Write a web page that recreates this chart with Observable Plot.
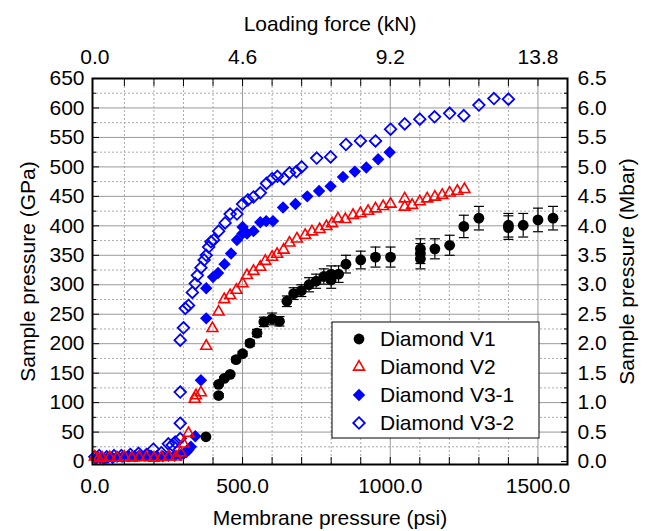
<!DOCTYPE html>
<html><head><meta charset="utf-8">
<script src="https://cdn.jsdelivr.net/npm/d3@7"></script>
<script src="https://cdn.jsdelivr.net/npm/@observablehq/plot@0.6"></script>
<style>
body{margin:0;background:#fff;}
#chart svg{font-family:"Liberation Sans",Arial,Helvetica,sans-serif;}
</style></head><body><div id="chart"></div>
<script>
// ---- data (membrane pressure psi, sample pressure GPa) ----
const v1Psi = [376,419,419,438,458,478,500,525,549,572,600,625,650,673,699,725,749,775,800,800,825,850,900,950,1001,1102,1102,1102,1151,1201,1249,1300,1400,1400,1450,1500,1551];
const v1GPa = [42,112,131,141,148,173,183,201,218,237,242,238,272,285,290,300,306,314,308,318,318,335,342,347,347,344,353,361,361,367,399,413,397,401,401,410,413];
const v1Err = [2,3,3,3,3,4,4,5,6,8,10,8,9,10,10,12,12,13,14,14,14,15,15,17,17,17,17,17,17,17,19,20,20,20,20,20,20];

const v2Psi = [0,12,25,50,75,100,125,150,175,200,225,250,275,290,300,317,338,342,359,377,398,419,438,458,479,500,515,537,560,577,600,617,639,659,684,712,735,761,784,803,823,848,874,899,925,950,976,1001,1049,1049,1074,1100,1125,1151,1176,1201,1227,1251];
const v2GPa = [8,5,6,7,6,8,6,7,7,6,7,8,8,15,30,48,106,112,117,196,226,254,275,282,291,302,316,323,330,340,347,352,359,371,378,384,390,394,399,404,412,411,418,421,425,429,433,437,446,432,435,441,446,449,452,456,459,462];

const v31Psi = [5,18,30,45,60,75,95,115,135,150,170,190,210,230,250,270,290,300,310,317,325,340,359,377,377,400,417,439,461,481,500,500,515,537,560,580,603,637,679,719,759,798,840,880,919,959,998];
const v31GPa = [5,6,4,7,6,8,8,9,9,10,10,10,9,9,10,10,11,13,16,20,25,43,138,243,294,313,320,335,353,376,398,387,387,391,406,408,408,431,437,450,459,467,483,492,499,513,525];

const v32Psi = [0,15,40,65,90,120,148,175,198,225,249,262,272,289,289,289,289,300,306,317,330,340,347,359,370,377,385,393,402,419,441,458,481,500,518,537,560,581,600,618,640,659,682,700,751,798,850,899,950,1001,1049,1100,1150,1201,1249,1300,1351,1400];
const v32GPa = [8,10,8,10,10,12,14,12,21,15,30,28,33,39,65,118,206,227,260,265,287,302,316,329,342,350,364,373,376,391,405,420,420,437,444,449,456,472,480,484,480,490,492,500,515,517,538,544,544,564,573,581,585,591,587,605,616,615];

const seriesNames = ["Diamond V1","Diamond V2","Diamond V3-1","Diamond V3-2"];

// ---- axis ticks ----
const xLabelTicks = [0,500,1000,1500];
const topLabels = ["0.0","4.6","9.2","13.8"];
const xTickMarks = [100,200,300,400,500,600,700,800,900,1000,1100,1200,1300,1400,1500];
const yTicks = [0,50,100,150,200,250,300,350,400,450,500,550,600,650];
const yMajorGrid = [50,100,150,200,250,300,350,400,450,500,550,600];
const yMinorGrid = [25,75,125,175,225,275,325,375,425,475,525,575,625];
const xSolidGrid = [500,1000,1500];
const xDotGrid = [100,200,300,400,600,700,800,900,1100,1200,1300,1400];

const zip = (xs, ys, es) => xs.map((x, i) => ({x, y: ys[i], e: es ? es[i] : 0}));
const d1 = zip(v1Psi, v1GPa, v1Err);
const d2 = zip(v2Psi, v2GPa);
const d31 = zip(v31Psi, v31GPa);
const d32 = zip(v32Psi, v32GPa);

const capSymbol = {draw(ctx) { ctx.moveTo(-5, 0); ctx.lineTo(5, 0); }};

const plot = Plot.plot({
  width: 647, height: 531,
  marginLeft: 92, marginRight: 80, marginTop: 78, marginBottom: 67,
  style: {fontFamily: "Liberation Sans, Arial, sans-serif", fontSize: "21px", color: "black", background: "white", overflow: "visible"},
  x: {domain: [-8, 1600]},
  y: {domain: [-5, 650]},
  marks: [
    Plot.gridY(yMinorGrid, {stroke: "#aaa", strokeOpacity: 1, strokeDasharray: "2,2"}),
    Plot.gridX(xDotGrid, {stroke: "#aaa", strokeOpacity: 1, strokeDasharray: "2,2"}),
    Plot.gridY(yMajorGrid, {stroke: "#999", strokeOpacity: 1}),
    Plot.gridX(xSolidGrid, {stroke: "#999", strokeOpacity: 1}),
    // inward ticks
    Plot.axisX(xTickMarks, {anchor: "bottom", tickSize: -7, tickFormat: () => "", label: null}),
    Plot.axisX(xTickMarks, {anchor: "top", tickSize: -7, tickFormat: () => "", label: null}),
    Plot.axisY(yTicks, {anchor: "left", tickSize: -7, tickFormat: () => "", label: null}),
    Plot.axisY(yTicks, {anchor: "right", tickSize: -7, tickFormat: () => "", label: null}),
    Plot.axisY(yMinorGrid, {anchor: "left", tickSize: -4, tickFormat: () => "", label: null}),
    Plot.axisY(yMinorGrid, {anchor: "right", tickSize: -4, tickFormat: () => "", label: null}),
    // labels
    Plot.axisX(xLabelTicks, {anchor: "bottom", tickSize: 0, tickPadding: 14, tickFormat: d3.format(".1f"),
      label: "Membrane pressure (psi)", labelAnchor: "center", labelOffset: 60, labelArrow: "none"}),
    Plot.axisX(xLabelTicks, {anchor: "top", tickSize: 0, tickPadding: 15, tickFormat: d => topLabels[xLabelTicks.indexOf(d)],
      label: "Loading force (kN)", labelAnchor: "center", labelOffset: 62, labelArrow: "none"}),
    Plot.axisY(yTicks, {anchor: "left", tickSize: 0, tickPadding: 8,
      label: "Sample pressure (GPa)", labelAnchor: "center", labelOffset: 72, labelArrow: "none"}),
    Plot.axisY(yTicks, {anchor: "right", tickSize: 0, tickPadding: 10, tickFormat: d => (d / 100).toFixed(1),
      label: "Sample pressure (Mbar)", labelAnchor: "center", labelOffset: 66, labelArrow: "none"}),
    // data
    Plot.dot(d32, {x: "x", y: "y", symbol: "diamond2", r: 5.2, stroke: "#0000ff", strokeWidth: 1.8, fill: "none"}),
    Plot.dot(d31, {x: "x", y: "y", symbol: "diamond2", r: 5.6, fill: "#0000ff", stroke: "none"}),
    Plot.dot(d2, {x: "x", y: "y", symbol: "triangle2", r: 5.2, stroke: "#ff0000", strokeWidth: 1.6, fill: "none"}),
    Plot.ruleX(d1, {x: "x", y1: d => d.y - d.e, y2: d => d.y + d.e, stroke: "black", strokeWidth: 1.2}),
    Plot.dot(d1, {x: "x", y: d => d.y - d.e, symbol: capSymbol, stroke: "black", strokeWidth: 1.2}),
    Plot.dot(d1, {x: "x", y: d => d.y + d.e, symbol: capSymbol, stroke: "black", strokeWidth: 1.2}),
    Plot.dot(d1, {x: "x", y: "y", symbol: "circle", r: 5.4, fill: "black", stroke: "none"}),
    Plot.frame({stroke: "black", strokeWidth: 2})
  ]
});
document.getElementById("chart").appendChild(plot);

// legend box inside plot area
const svg = d3.select(plot);
const lg = svg.append("g").attr("font-family", "Liberation Sans, Arial, sans-serif").attr("font-size", 21)
  .attr("text-anchor", "start");
lg.append("rect").attr("x", 332).attr("y", 322).attr("width", 207).attr("height", 116)
  .attr("fill", "white").attr("stroke", "black").attr("stroke-width", 1);
const legendSyms = [
  {sym: d3.symbolCircle, r: 5.4, fill: "black", stroke: "none", sw: 0},
  {sym: d3.symbolTriangle2, r: 5.2, fill: "none", stroke: "#ff0000", sw: 1.6},
  {sym: d3.symbolDiamond2, r: 5.6, fill: "#0000ff", stroke: "none", sw: 0},
  {sym: d3.symbolDiamond2, r: 5.2, fill: "none", stroke: "#0000ff", sw: 1.8}
];
seriesNames.forEach((name, i) => {
  const cy = 339 + i * 28;
  const s = legendSyms[i];
  lg.append("path").attr("transform", `translate(359,${cy})`)
    .attr("d", d3.symbol(s.sym, Math.PI * s.r * s.r)())
    .attr("fill", s.fill).attr("stroke", s.stroke).attr("stroke-width", s.sw);
  lg.append("text").attr("x", 380).attr("y", cy).attr("dy", "0.35em").attr("text-anchor", "start")
    .attr("fill", "black").text(name);
});
</script></body></html>
